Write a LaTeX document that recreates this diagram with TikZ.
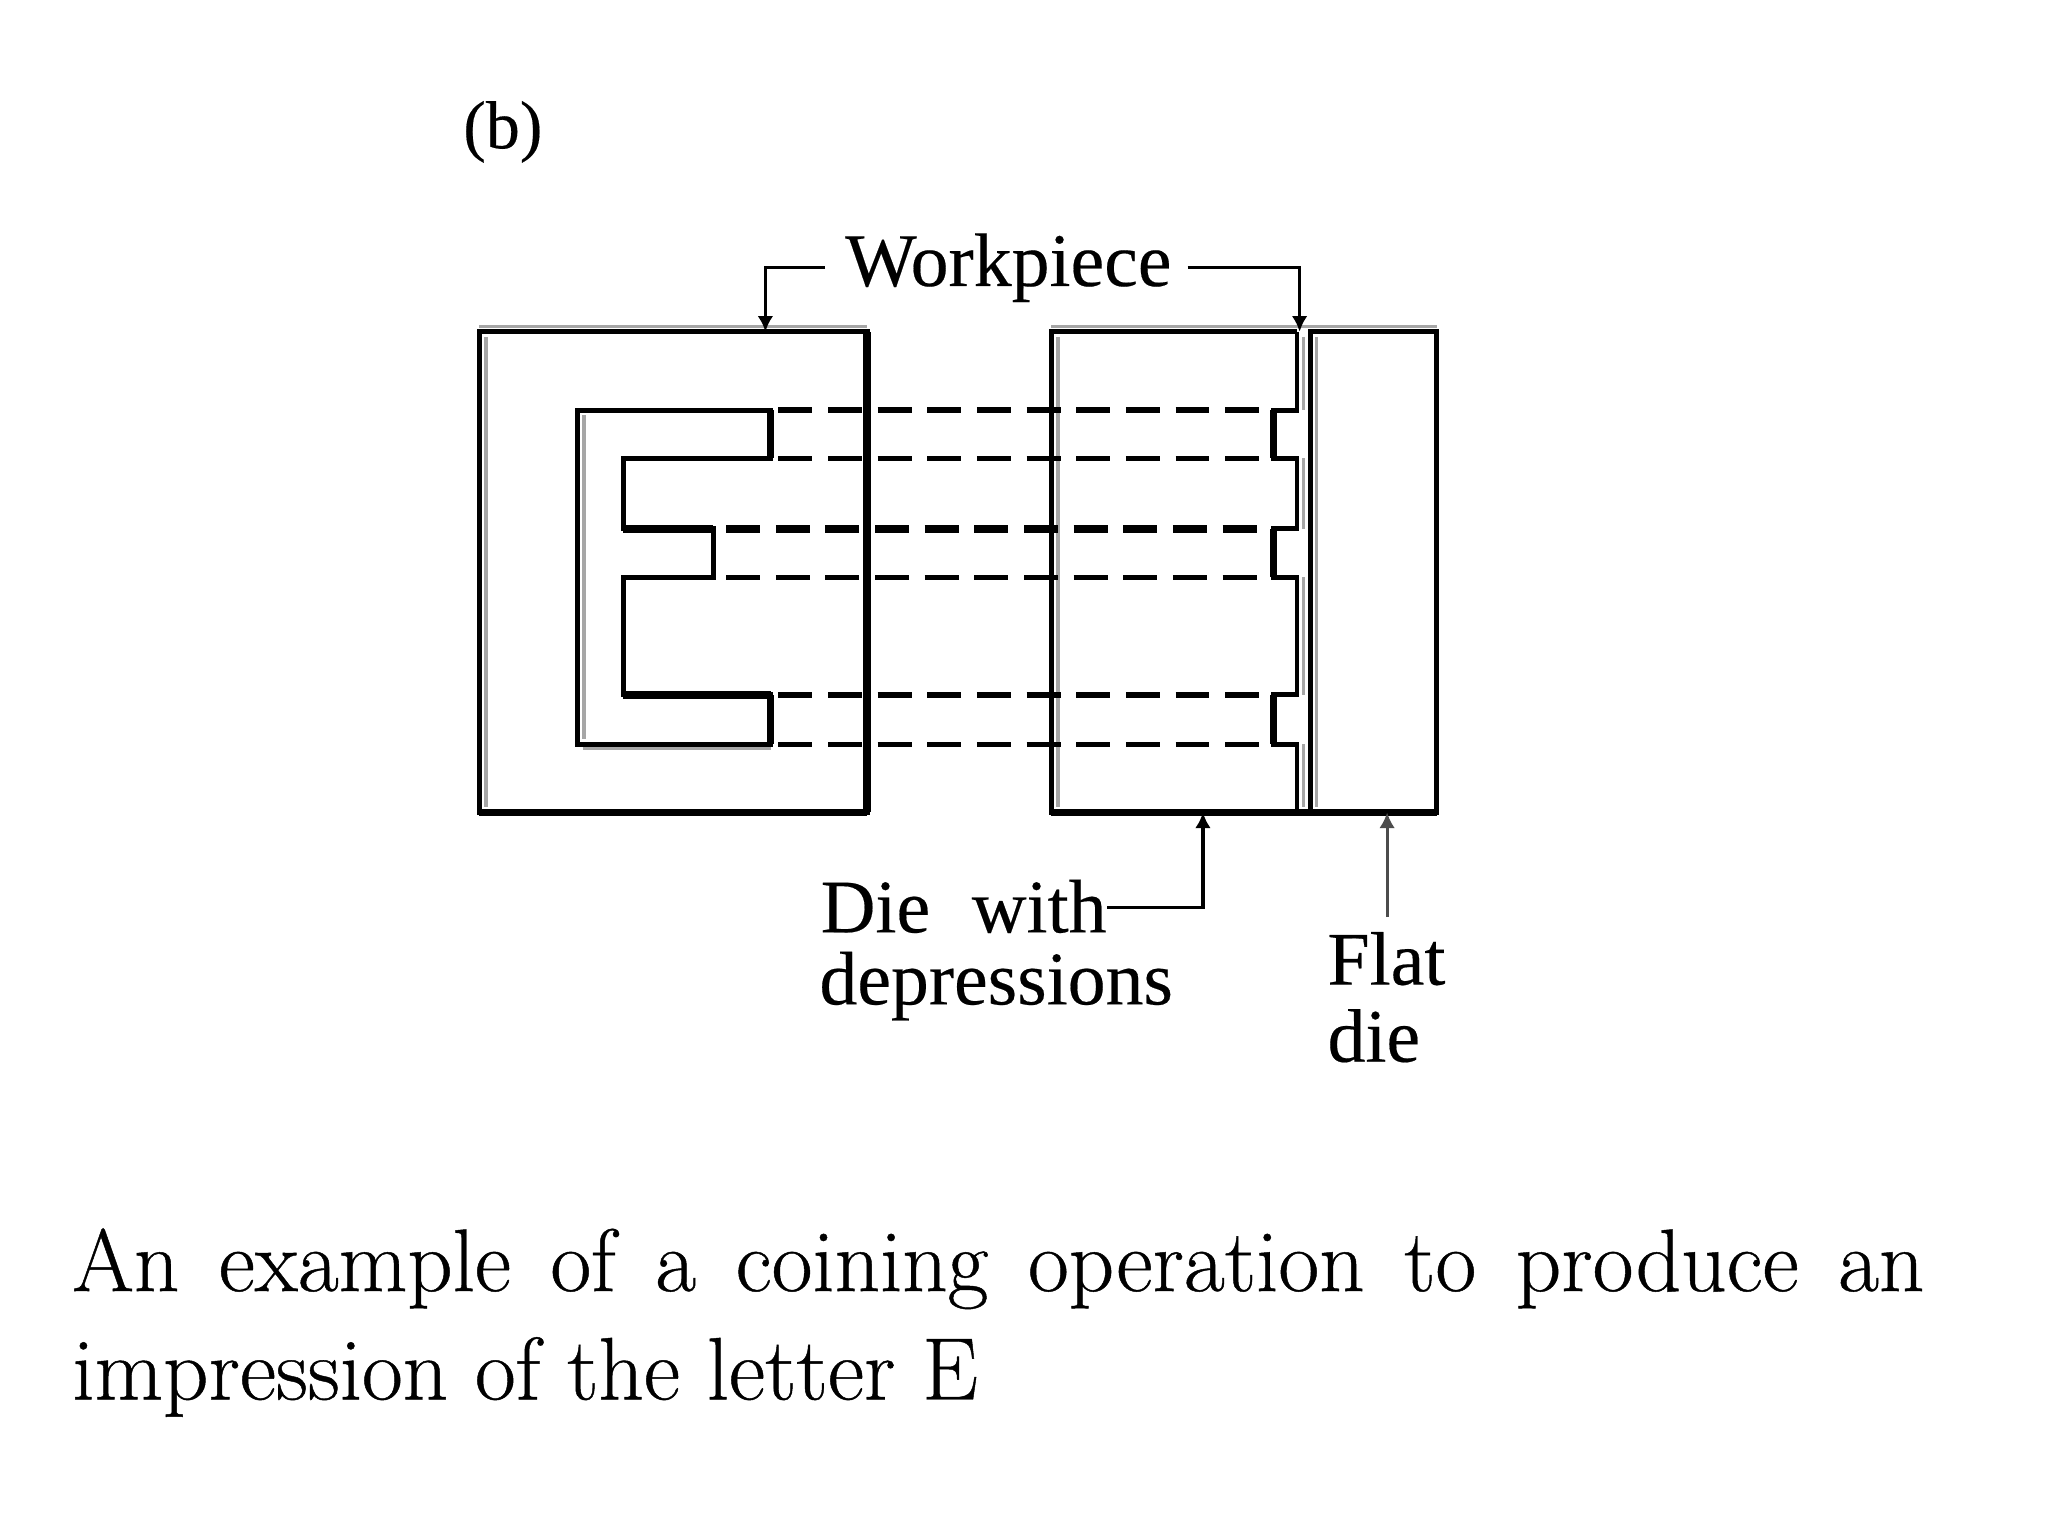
\documentclass[tikz,border=0pt]{standalone}
\usepackage{fontspec}
\setmainfont{Latin Modern Roman}
\newfontfamily\labelfont[FakeBold=0.25]{Liberation Serif}
\newfontfamily\capfont[FakeBold=0.5]{Latin Modern Roman}
\usetikzlibrary{arrows.meta}
\tikzset{
  x=0.5pt,y=-0.5pt,
  part/.style={draw=black,line width=1.9pt,line join=miter},
  heavy/.style={draw=black,line width=2.9pt},
  shade/.style={draw=black!35,line width=1.4pt},
  proj/.style={draw=black,line width=2.1pt,dash pattern=on 13pt off 6pt},
  leader/.style={draw=black,line width=1.2pt},
  pointer/.style={leader,-{Latex[length=6pt,width=6pt]}},
  lab/.style={font=\labelfont\fontsize{29}{32}\selectfont,inner sep=0pt,text=black},
  captext/.style={font=\capfont\fontsize{34}{41.5}\selectfont,inner sep=0pt,anchor=north west,text width=709pt,align=justify}
}
\begin{document}
\begin{tikzpicture}
\useasboundingbox (0,0) rectangle (1568,1176);
\fill[white] (0,0) rectangle (1568,1176);
% reference points
\coordinate (wT) at (586,254);
\coordinate (dT) at (995,254);
\coordinate (dB) at (921,622);
\coordinate (fB) at (1062,622);
% grey print shadows
\draw[shade] (372,258) -- (372,618);
\draw[shade] (447,318) -- (447,566) (446,573) -- (590,573);
\draw[shade] (810,258) -- (810,618);
\draw[shade] (998,258) -- (998,314) (998,351) -- (998,405) (998,442) -- (998,532) (998,570) -- (998,618);
\draw[shade] (1008,258) -- (1008,618);
\draw[shade] (367,250) -- (664,250) (805,250) -- (1100,250);
% workpiece
\draw[part] (367,254) rectangle (664,622);
\draw[heavy] (664,254) -- (664,622) (367,622) -- (664,622);
\draw[part] (442,314) -- (590,314) -- (590,351) -- (477,351) -- (477,405) -- (546,405) -- (546,442) -- (477,442) -- (477,532) -- (590,532) -- (590,570) -- (442,570) -- cycle;
\draw[heavy] (590,314) -- (590,351) (590,532) -- (590,570) (477,405) -- (546,405) (477,532) -- (590,532);
% die with depressions
\draw[part] (993,254) -- (805,254) -- (805,622) -- (993,622);
\draw[part] (993,254) -- (993,314) -- (975,314) -- (975,351) -- (993,351) -- (993,405) -- (975,405) -- (975,442) -- (993,442) -- (993,532) -- (975,532) -- (975,570) -- (993,570) -- (993,622);
\draw[heavy] (975,314) -- (975,351) (975,405) -- (975,442) (975,532) -- (975,570);
% flat die
\draw[part] (1003,254) rectangle (1100,622);
\draw[heavy] (805,622) -- (1100,622);
% projection lines
\coordinate (a1) at (596,314); \coordinate (b1) at (966,314);
\coordinate (a2) at (596,351); \coordinate (b2) at (966,351);
\coordinate (a3) at (556,405); \coordinate (b3) at (966,405);
\coordinate (a4) at (556,442); \coordinate (b4) at (966,442);
\coordinate (a5) at (596,532); \coordinate (b5) at (966,532);
\coordinate (a6) at (596,570); \coordinate (b6) at (966,570);
\draw[proj] (a1) -- (b1);
\draw[proj,line width=1.6pt] (a2) -- (b2);
\draw[proj,line width=2.7pt] (a3) -- (b3);
\draw[proj] (a4) -- (b4);
\draw[proj] (a5) -- (b5);
\draw[proj] (a6) -- (b6);
% labels
\node[lab,font=\labelfont\fontsize{26}{30}\selectfont] (bl) at (385,101) {(b)};
\node[lab] (work) at (772,205) {Workpiece};
\node[lab,anchor=west] (die1) at (628,694) {Die\hspace{0.55em}with};
\node[lab,anchor=west] (die2) at (627,755) {depressions};
\node[lab,anchor=west] (flat1) at (1016,734) {Flat};
\node[lab,anchor=west] (flat2) at (1016,793) {die};
% leaders
\draw[pointer] (work.west) ++(-15,0) -| (wT);
\draw[pointer] (work.east) ++(12,0) -| (dT);
\draw[pointer] (die1.east) ++(0,1) -| (dB);
\draw[pointer,draw=black!70] (flat1.north -| fB) ++(0,-11) -- (fB);
% caption
\node[captext] (caption) at (55,940) {An example of a coining operation to produce an\linebreak \mbox{impression} of the letter E};
\end{tikzpicture}
\end{document}
